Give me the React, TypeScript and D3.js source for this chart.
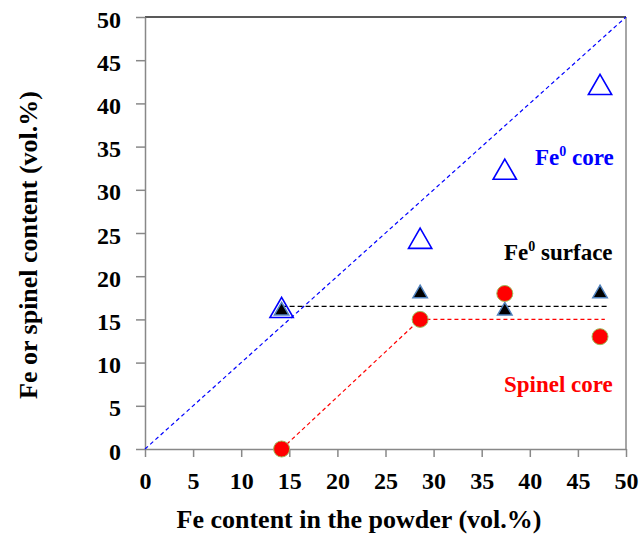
import React, { useEffect, useRef } from "react";
import * as d3 from "d3";

// Fe content in the powder (vol.%)
const feContent = [14.2, 28.6, 37.4, 47.3];
const fe0Core = [16, 24, 32, 41.8];
const fe0Surface = [16, 18, 16, 18];
const spinelCore = [0, 15, 18, 13];

const xTicks = [0, 5, 10, 15, 20, 25, 30, 35, 40, 45, 50];
const yTicks = [0, 5, 10, 15, 20, 25, 30, 35, 40, 45, 50];

// guide lines
const diagonal = [[0, 0], [50, 50]];
const surfaceLevel = [[14.2, 16.5], [48, 16.5]];
const spinelTrend = [[14.2, 0], [28.6, 15], [47.8, 15]];

const W = 641, H = 549;
const margin = { top: 17, right: 15, bottom: 100, left: 145 };
const FONT = "'Liberation Serif', 'Times New Roman', serif";

const App = () => {
  const ref = useRef<SVGSVGElement>(null);

  useEffect(() => {
    const svg = d3.select(ref.current);
    svg.selectAll("*").remove();

    const x = d3.scaleLinear().domain([0, 50]).range([margin.left, W - margin.right]);
    const y = d3.scaleLinear().domain([0, 50]).range([H - margin.bottom, margin.top]);

    svg.append("rect").attr("width", W).attr("height", H).attr("fill", "#fff");

    // frame: top dark, right grey
    svg.append("line")
      .attr("x1", x(0)).attr("x2", x(50)).attr("y1", y(50)).attr("y2", y(50))
      .attr("stroke", "#222").attr("stroke-width", 1.5);
    svg.append("line")
      .attr("x1", x(50)).attr("x2", x(50)).attr("y1", y(50)).attr("y2", y(0))
      .attr("stroke", "#888").attr("stroke-width", 1.5);

    // axes
    const gx = svg.append("g").attr("transform", `translate(0,${y(0)})`)
      .call(d3.axisBottom(x).tickValues(xTicks).tickSize(8).tickSizeOuter(0));
    const gy = svg.append("g").attr("transform", `translate(${x(0)},0)`)
      .call(d3.axisLeft(y).tickValues(yTicks).tickSize(9).tickSizeOuter(0));

    [gx, gy].forEach(g => {
      g.select(".domain").attr("stroke", "#888").attr("stroke-width", 1.5);
      g.selectAll(".tick line").attr("stroke", "#888").attr("stroke-width", 1.5);
      g.selectAll("text")
        .attr("font-family", FONT).attr("font-weight", "bold")
        .attr("font-size", 24).attr("fill", "#000");
    });
    gx.selectAll(".tick text").attr("y", 40).attr("dy", 0);
    gy.selectAll(".tick text").attr("x", -24).attr("dy", 10);

    // dashed guides
    const line = d3.line<number[]>().x(d => x(d[0])).y(d => y(d[1]));
    svg.append("path").attr("d", line(diagonal)).attr("fill", "none")
      .attr("stroke", "#0000ff").attr("stroke-width", 1.2).attr("stroke-dasharray", "4,3");
    svg.append("path").attr("d", line(surfaceLevel)).attr("fill", "none")
      .attr("stroke", "#000").attr("stroke-width", 1.2).attr("stroke-dasharray", "5,3");
    svg.append("path").attr("d", line(spinelTrend)).attr("fill", "none")
      .attr("stroke", "#ff0000").attr("stroke-width", 1.2).attr("stroke-dasharray", "4,3");

    const bigTri = d3.symbol().type(d3.symbolTriangle).size(235);
    const smallTri = d3.symbol().type(d3.symbolTriangle).size(90);

    // Fe0 core: open blue triangles
    svg.append("g").selectAll("path")
      .data(feContent.map((v, i) => [v, fe0Core[i]]))
      .enter().append("path")
      .attr("d", bigTri)
      .attr("transform", d => `translate(${x(d[0])},${y(d[1])})`)
      .attr("fill", "none").attr("stroke", "#0000ff").attr("stroke-width", 1.6);

    // Fe0 surface: black triangles
    svg.append("g").selectAll("path")
      .data(feContent.map((v, i) => [v, fe0Surface[i]]))
      .enter().append("path")
      .attr("d", smallTri)
      .attr("transform", d => `translate(${x(d[0])},${y(d[1])})`)
      .attr("fill", "#000").attr("stroke", "#4f81bd").attr("stroke-width", 1.5);

    // Spinel core: red circles
    svg.append("g").selectAll("circle")
      .data(feContent.map((v, i) => [v, spinelCore[i]]))
      .enter().append("circle")
      .attr("cx", d => x(d[0])).attr("cy", d => y(d[1])).attr("r", 8)
      .attr("fill", "#ff0000").attr("stroke", "#9bbb59").attr("stroke-width", 1);

    // series labels
    const label = (tx: number, ty: number, color: string, pre: string, sup: string, post: string) => {
      const t = svg.append("text").attr("x", tx).attr("y", ty)
        .attr("font-family", FONT).attr("font-weight", "bold").attr("font-size", 23)
        .attr("fill", color);
      t.append("tspan").text(pre);
      if (sup) t.append("tspan").attr("font-size", 14).attr("dy", -9).text(sup);
      t.append("tspan").attr("dy", sup ? 9 : 0).text(post);
    };
    label(535, 165, "#0000ff", "Fe", "0", " core");
    label(504, 260, "#000", "Fe", "0", " surface");
    label(504, 392, "#ff0000", "Spinel core", "", "");

    // axis titles
    svg.append("text").attr("x", 359).attr("y", 528).attr("text-anchor", "middle")
      .attr("font-family", FONT).attr("font-weight", "bold").attr("font-size", 26)
      .text("Fe content in the powder (vol.%)");
    svg.append("text").attr("transform", "translate(37,245) rotate(-90)")
      .attr("text-anchor", "middle")
      .attr("font-family", FONT).attr("font-weight", "bold").attr("font-size", 26)
      .text("Fe or spinel content (vol.%)");
  }, []);

  return (
    <svg ref={ref} width={W} height={H}
      style={{ position: "absolute", left: 0, top: 0, display: "block" }} />
  );
};

export default App;
